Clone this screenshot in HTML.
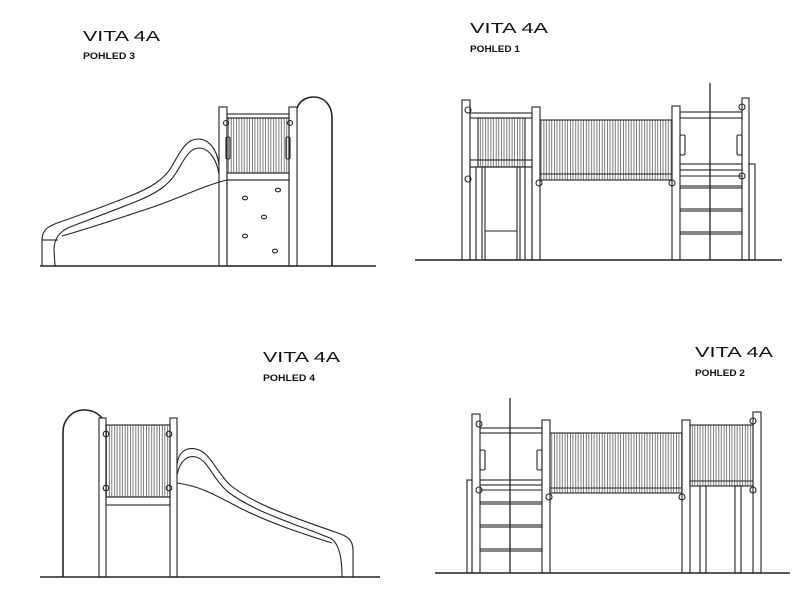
<!DOCTYPE html>
<html><head><meta charset="utf-8"><style>
html,body{margin:0;padding:0;background:#fff;}
svg{display:block;}
text{font-family:"Liberation Sans",sans-serif;fill:#111;}
</style></head><body>
<svg width="800" height="602" viewBox="0 0 800 602" xmlns="http://www.w3.org/2000/svg">
<defs>
<pattern id="sl" width="5.3" height="10" patternUnits="userSpaceOnUse">
<line x1="0.5" y1="0" x2="0.5" y2="10" stroke="#444" stroke-width="0.7"/>
<line x1="3.3" y1="0" x2="3.3" y2="10" stroke="#444" stroke-width="0.7"/>
</pattern>
</defs>
<g fill="none" stroke="#222" stroke-width="1.1">

<!-- ===== Panel 1 ===== -->
<line x1="40" y1="266" x2="376" y2="266" stroke-width="1.6"/>
<rect x="219" y="107" width="8" height="159"/>
<rect x="289" y="107" width="8" height="159"/>
<rect x="227" y="114" width="62" height="4"/>
<rect x="227" y="118" width="62" height="55" fill="url(#sl)"/>
<rect x="227" y="173" width="62" height="7"/>
<rect x="227" y="180" width="62" height="86"/>
<circle cx="226" cy="123" r="2.5"/><circle cx="290" cy="123" r="2.5"/>
<rect x="226" y="137" width="4" height="22" rx="1.5"/><rect x="286" y="137" width="4" height="22" rx="1.5"/>
<ellipse cx="245" cy="198" rx="2.5" ry="1.8"/><ellipse cx="278" cy="190" rx="2.5" ry="1.8"/>
<ellipse cx="264" cy="217" rx="2.5" ry="1.8"/><ellipse cx="245" cy="236" rx="2.5" ry="1.8"/>
<ellipse cx="275" cy="251" rx="2.5" ry="1.8"/>
<path d="M297,108 C300,100 307,97 314,97 C324,97 332,105 332,118 L332,266" stroke-width="1.6"/>
<path d="M219,165 C217,148 208,139 198,139 C186,139 180,152 172,166 C164,180 150,188 130,196 C105,206 80,215 60,222 C48,226 42,230 42,240 L42,266"/>
<path d="M219,174 C216,156 207,148 199,148 C189,148 184,160 176,173 C168,186 155,194 135,202 C110,212 88,220 70,227 C58,232 54,240 54,250 L55,266"/>
<path d="M227,180 C205,185 175,200 150,208 C120,218 90,228 62,236"/>
<line x1="42" y1="240" x2="58" y2="240"/>

<!-- ===== Panel 2 ===== -->
<line x1="415" y1="260" x2="782" y2="260" stroke-width="1.6"/>
<rect x="462" y="100" width="8" height="160"/>
<rect x="470" y="167" width="6" height="93"/>
<rect x="532" y="107" width="8" height="153"/>
<rect x="525" y="167" width="7" height="93"/>
<rect x="672" y="106" width="8" height="154"/>
<rect x="742" y="98" width="7" height="162"/>
<rect x="749" y="164" width="6" height="96"/>
<line x1="710" y1="83" x2="710" y2="260" stroke-width="1.3"/>
<rect x="470" y="113" width="62" height="5"/>
<rect x="478" y="118" width="47" height="49" fill="url(#sl)"/>
<rect x="470" y="160" width="62" height="7"/>
<rect x="482" y="167" width="38" height="93"/>
<line x1="485" y1="167" x2="485" y2="260"/><line x1="517" y1="167" x2="517" y2="260"/>
<line x1="485" y1="231" x2="517" y2="231"/>
<rect x="540" y="120" width="132" height="60" fill="url(#sl)"/>
<line x1="540" y1="174" x2="672" y2="174"/>
<rect x="680" y="112" width="62" height="6"/>
<rect x="680" y="164" width="62" height="6"/>
<line x1="680" y1="176" x2="742" y2="176"/>
<rect x="680" y="186" width="62" height="2"/>
<rect x="680" y="209" width="62" height="2"/>
<rect x="680" y="232" width="62" height="2"/>
<rect x="680" y="135" width="5" height="20" rx="1.5"/><rect x="737" y="135" width="5" height="20" rx="1.5"/>
<circle cx="468" cy="110" r="3"/><circle cx="468" cy="179" r="3"/>
<circle cx="539" cy="183" r="3"/><circle cx="672" cy="183" r="3"/>
<circle cx="742" cy="107" r="3"/><circle cx="742" cy="176" r="3"/>

<!-- ===== Panel 3 ===== -->
<line x1="40" y1="577" x2="380" y2="577" stroke-width="1.6"/>
<rect x="99" y="418" width="7" height="159"/>
<rect x="170" y="418" width="7" height="159"/>
<rect x="106" y="425" width="64" height="72" fill="url(#sl)"/>
<rect x="106" y="497" width="64" height="8"/>
<circle cx="106" cy="434" r="2.8"/><circle cx="169" cy="434" r="2.8"/>
<circle cx="106" cy="488" r="2.8"/><circle cx="169" cy="488" r="2.8"/>
<path d="M102,418 C97,412 90,410 84,410 C72,410 63,420 63,432 L63,577" stroke-width="1.6"/>
<path d="M177,465 C178,452 186,447 196,449 C210,452 215,470 230,485 C255,505 290,516 335,532 C348,536 353,540 353,550 L353,577"/>
<path d="M177,475 C180,460 188,455 196,457 C208,460 212,478 228,492 C255,512 290,522 330,538 C338,542 342,555 342,577"/>
<path d="M177,483 C200,486 215,495 240,508 C270,523 300,533 332,543"/>

<!-- ===== Panel 4 ===== -->
<line x1="435" y1="573" x2="790" y2="573" stroke-width="1.6"/>
<rect x="472" y="414" width="8" height="159"/>
<rect x="467" y="480" width="5" height="93"/>
<rect x="542" y="420" width="8" height="153"/>
<rect x="682" y="420" width="8" height="153"/>
<rect x="753" y="412" width="8" height="161"/>
<line x1="510" y1="398" x2="510" y2="573" stroke-width="1.3"/>
<rect x="480" y="428" width="62" height="5"/>
<rect x="480" y="480" width="62" height="5"/>
<line x1="480" y1="490" x2="542" y2="490"/>
<rect x="480" y="502" width="62" height="2"/>
<rect x="480" y="525" width="62" height="2"/>
<rect x="480" y="549" width="62" height="2"/>
<rect x="480" y="450" width="5" height="20" rx="1.5"/><rect x="537" y="450" width="5" height="20" rx="1.5"/>
<rect x="550" y="433" width="132" height="60" fill="url(#sl)"/>
<line x1="550" y1="488" x2="682" y2="488"/>
<rect x="690" y="425" width="63" height="61" fill="url(#sl)"/>
<line x1="690" y1="481" x2="753" y2="481"/>
<rect x="700" y="486" width="6" height="87"/>
<rect x="735" y="486" width="6" height="87"/>
<circle cx="479" cy="424" r="3"/><circle cx="479" cy="490" r="3"/>
<circle cx="549" cy="497" r="3"/><circle cx="682" cy="497" r="3"/>
<circle cx="753" cy="421" r="3"/><circle cx="753" cy="490" r="3"/>
</g>

<g stroke="none">
<text x="83" y="41" font-size="15" textLength="77" lengthAdjust="spacingAndGlyphs">VITA 4A</text>
<text x="83" y="59" font-size="9" font-weight="bold" textLength="52" lengthAdjust="spacingAndGlyphs">POHLED 3</text>
<text x="470" y="33" font-size="15" textLength="78" lengthAdjust="spacingAndGlyphs">VITA 4A</text>
<text x="470" y="52" font-size="9" font-weight="bold" textLength="50" lengthAdjust="spacingAndGlyphs">POHLED 1</text>
<text x="263" y="362" font-size="15" textLength="77" lengthAdjust="spacingAndGlyphs">VITA 4A</text>
<text x="263" y="381" font-size="9" font-weight="bold" textLength="52" lengthAdjust="spacingAndGlyphs">POHLED 4</text>
<text x="695" y="357" font-size="15" textLength="78" lengthAdjust="spacingAndGlyphs">VITA 4A</text>
<text x="695" y="376" font-size="9" font-weight="bold" textLength="50" lengthAdjust="spacingAndGlyphs">POHLED 2</text>
</g>
</svg>
</body></html>
